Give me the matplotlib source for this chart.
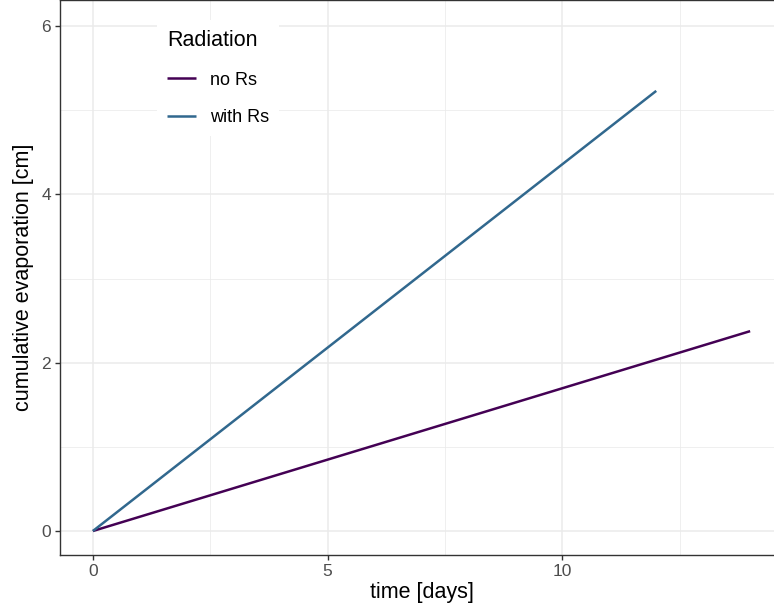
import matplotlib.pyplot as plt
from matplotlib.ticker import MultipleLocator

plt.rcParams['font.family'] = ['Liberation Sans', 'DejaVu Sans']

# cumulative evaporation, start and end of each run
time_no_rs = [0, 14]
evap_no_rs = [0, 2.375]
time_with_rs = [0, 12]
evap_with_rs = [0, 5.23]

labels = ['no Rs', 'with Rs']
colors = ['#440154', '#31688E']

W, H = 774, 616
fig = plt.figure(figsize=(W / 100, H / 100), dpi=100)
# panel runs a little past the right edge of the figure
ax = fig.add_axes([60 / W, 1 - 555 / H, (783 - 60) / W, 555 / H])

ax.plot(time_no_rs, evap_no_rs, color=colors[0], lw=1.8, label=labels[0],
        solid_capstyle='butt', zorder=3)
ax.plot(time_with_rs, evap_with_rs, color=colors[1], lw=1.8, label=labels[1],
        solid_capstyle='butt', zorder=3)

ax.set_xlim(-0.7, 14.7)
ax.set_ylim(-0.285, 6.31)

ax.xaxis.set_major_locator(MultipleLocator(5))
ax.xaxis.set_minor_locator(MultipleLocator(2.5))
ax.yaxis.set_major_locator(MultipleLocator(2))
ax.yaxis.set_minor_locator(MultipleLocator(1))

ax.grid(which='major', color='#EBEBEB', lw=1.1, zorder=0)
ax.grid(which='minor', color='#EBEBEB', lw=0.55, zorder=0)
ax.set_axisbelow(True)

for s in ax.spines.values():
    s.set_color('#333333')
    s.set_linewidth(1.0)

ax.tick_params(which='major', length=3.5, width=1.0, color='#333333',
               labelcolor='#4D4D4D', labelsize=12.5, pad=3)
ax.tick_params(which='minor', length=0)

ax.set_xlabel('time [days]', fontsize=15.5, labelpad=2)
ax.set_ylabel('cumulative evaporation [cm]', fontsize=15.5, labelpad=5)

leg = ax.legend(title='Radiation', loc='upper left',
                bbox_to_anchor=(157 / W, 1 - 20 / H),
                bbox_transform=fig.transFigure, borderaxespad=0,
                fontsize=13, title_fontsize=15.5, alignment='left',
                frameon=True, facecolor='white', edgecolor='none',
                framealpha=1, fancybox=False, handlelength=1.6,
                handletextpad=0.8, labelspacing=1.15, borderpad=0.55)
leg.get_frame().set_linewidth(0)

fig.savefig('out.png', dpi=100)
